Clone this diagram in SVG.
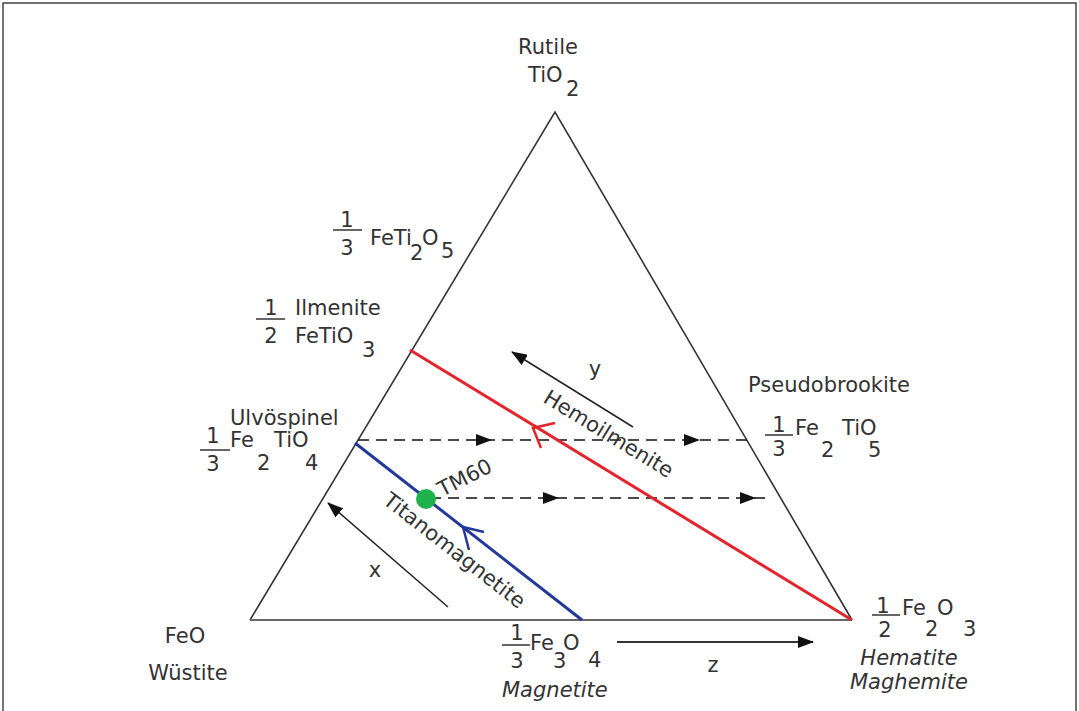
<svg xmlns="http://www.w3.org/2000/svg" width="1079" height="711" viewBox="0 0 1079 711">
<defs>
<style>
text{font-family:"DejaVu Sans","Liberation Sans",sans-serif;fill:#333;font-size:21px}
.edge{stroke:#333;stroke-width:1.6;fill:none}
.dash{stroke:#111;stroke-width:1.6;stroke-dasharray:11,7;fill:none}
.frac{stroke:#333;stroke-width:1.5}
.it{font-style:italic}
</style>
<marker id="ahb" viewBox="0 0 16 12" refX="15" refY="6" markerWidth="16" markerHeight="12" markerUnits="userSpaceOnUse" orient="auto">
<path d="M0,0 L16,6 L0,12 Z" fill="#111"/>
</marker>
</defs>
<rect width="1079" height="711" fill="#fff"/>
<path d="M3,711 V3 H1076 V711" fill="none" stroke="#444" stroke-width="1.5"/>

<g id="triangle">
<path class="edge" d="M250,620 L555,112 L852,620"/>
<line x1="250" y1="620" x2="852" y2="620" stroke="#666" stroke-width="2.2"/>
</g>

<g id="connectors">
<line class="dash" x1="358" y1="440" x2="748" y2="440"/>
<path d="M476,434 L492,440 L476,446 Z" fill="#111"/>
<path d="M684,434 L700,440 L684,446 Z" fill="#111"/>
<line class="dash" x1="430" y1="498" x2="770" y2="498"/>
<path d="M543,492 L559,498 L543,504 Z" fill="#111"/>
<path d="M740,492 L756,498 L740,504 Z" fill="#111"/>
<line x1="410" y1="350" x2="852" y2="620" stroke="#e3242b" stroke-width="3"/>
<path d="M555,423 L533,428 L541,448" fill="none" stroke="#e3242b" stroke-width="2.5"/>
<line x1="355" y1="443" x2="582" y2="620" stroke="#22399a" stroke-width="3"/>
<path d="M484,532 L463,527 L469,550" fill="none" stroke="#22399a" stroke-width="2.5"/>
<line x1="633" y1="427" x2="512" y2="352" stroke="#222" stroke-width="1.5" marker-end="url(#ahb)"/>
<line x1="448" y1="607" x2="328" y2="503" stroke="#222" stroke-width="1.5" marker-end="url(#ahb)"/>
<line x1="617" y1="642" x2="813" y2="642" stroke="#333" stroke-width="1.8" marker-end="url(#ahb)"/>
</g>

<g id="tm60">
<circle cx="426" cy="499" r="10" fill="#1db34a"/>
<text transform="translate(468,484) rotate(-27)" text-anchor="middle">TM60</text>
</g>

<g id="rutile">
<text x="548" y="54" text-anchor="middle">Rutile</text>
<text x="528" y="82">TiO</text>
<text x="566" y="96">2</text>
</g>

<g id="fe-ti2o5">
<text x="347" y="227" text-anchor="middle">1</text>
<line class="frac" x1="333" y1="230" x2="362" y2="230"/>
<text x="347" y="255" text-anchor="middle">3</text>
<text x="370" y="245">FeTi</text>
<text x="422" y="245">O</text>
<text x="410" y="260">2</text>
<text x="441" y="258">5</text>
</g>

<g id="ilmenite">
<text x="271" y="315" text-anchor="middle">1</text>
<line class="frac" x1="256" y1="319" x2="285" y2="319"/>
<text x="271" y="343" text-anchor="middle">2</text>
<text x="295" y="315">Ilmenite</text>
<text x="295" y="343">FeTiO</text>
<text x="362" y="357">3</text>
</g>

<g id="ulvospinel">
<text x="230" y="425">Ulvöspinel</text>
<text x="213" y="443" text-anchor="middle">1</text>
<line class="frac" x1="200" y1="450" x2="230" y2="450"/>
<text x="213" y="471" text-anchor="middle">3</text>
<text x="230" y="447">Fe</text>
<text x="257" y="470">2</text>
<text x="274" y="447">TiO</text>
<text x="305" y="470">4</text>
</g>

<g id="pseudobrookite">
<text x="748" y="392">Pseudobrookite</text>
<text x="779" y="432" text-anchor="middle">1</text>
<line class="frac" x1="765" y1="435" x2="793" y2="435"/>
<text x="779" y="456" text-anchor="middle">3</text>
<text x="795" y="435">Fe</text>
<text x="821" y="457">2</text>
<text x="842" y="435">TiO</text>
<text x="868" y="457">5</text>
</g>

<g id="wustite">
<text x="185" y="643" text-anchor="middle">FeO</text>
<text x="188" y="680" text-anchor="middle">Wüstite</text>
</g>

<g id="magnetite">
<text x="517" y="640" text-anchor="middle">1</text>
<line class="frac" x1="502" y1="645" x2="530" y2="645"/>
<text x="517" y="668" text-anchor="middle">3</text>
<text x="530" y="650">Fe</text>
<text x="553" y="668">3</text>
<text x="563" y="650">O</text>
<text x="588" y="667">4</text>
<text x="502" y="697" class="it">Magnetite</text>
</g>

<g id="hematite">
<text x="883" y="613" text-anchor="middle">1</text>
<line class="frac" x1="872" y1="615" x2="900" y2="615"/>
<text x="885" y="637" text-anchor="middle">2</text>
<text x="902" y="615">Fe</text>
<text x="925" y="636">2</text>
<text x="937" y="615">O</text>
<text x="963" y="636">3</text>
<text x="909" y="665" text-anchor="middle" class="it">Hematite</text>
<text x="909" y="689" text-anchor="middle" class="it">Maghemite</text>
</g>

<g id="labels">
<text transform="translate(605,440) rotate(31.4)" text-anchor="middle">Hemoilmenite</text>
<text transform="translate(450,556) rotate(38)" text-anchor="middle">Titanomagnetite</text>
<text x="595" y="376" text-anchor="middle">y</text>
<text x="375" y="577" text-anchor="middle">x</text>
<text x="713" y="672" text-anchor="middle">z</text>
</g>
</svg>
